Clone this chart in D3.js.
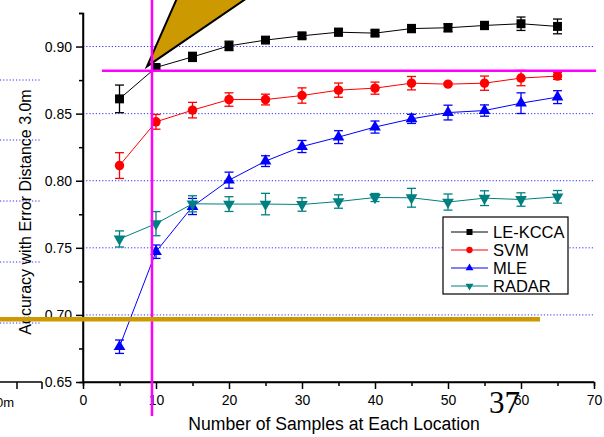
<!DOCTYPE html>
<html>
<head>
<meta charset="utf-8">
<script src="https://cdn.jsdelivr.net/npm/d3@7"></script>
<style>
  body { margin: 0; background: #fff; }
  svg { display: block; font-family: "Liberation Sans", Arial, sans-serif; }
  .grid line { stroke: #3030ff; stroke-width: 1; stroke-dasharray: 1.2 2; }
</style>
</head>
<body>
<script>
// sample counts
var samples = [5, 10, 15, 20, 25, 30, 35, 40, 45, 50, 55, 60, 65];

var lekcca = [0.861, 0.8844, 0.8923, 0.9005, 0.9048, 0.908, 0.9107, 0.910, 0.9134, 0.914, 0.9157, 0.917, 0.915];
var lekccaErr = [0.0103, 0.002, 0.0034, 0.0035, 0.002, 0.002, 0.0028, 0.002, 0.003, 0.003, 0.003, 0.005, 0.0055];

var svm = [0.8113, 0.8439, 0.8526, 0.8605, 0.8605, 0.8635, 0.8675, 0.869, 0.8727, 0.872, 0.8727, 0.8765, 0.878];
var svmErr = [0.0096, 0.0055, 0.0058, 0.005, 0.004, 0.0057, 0.0053, 0.0045, 0.005, 0.001, 0.0053, 0.0057, 0.0025];

var mle = [0.6763, 0.7471, 0.7808, 0.8004, 0.8146, 0.8255, 0.8325, 0.840, 0.8461, 0.8508, 0.8523, 0.8578, 0.8623];
var mleErr = [0.005, 0.005, 0.006, 0.006, 0.004, 0.0045, 0.0048, 0.0045, 0.0034, 0.0055, 0.0042, 0.0077, 0.0048];

var radar = [0.7566, 0.768, 0.7828, 0.7826, 0.7826, 0.7823, 0.7845, 0.7875, 0.7873, 0.7841, 0.787, 0.786, 0.788];
var radarErr = [0.006, 0.009, 0.006, 0.0055, 0.008, 0.005, 0.005, 0.003, 0.007, 0.006, 0.0055, 0.005, 0.0047];

var seriesNames = ["LE-KCCA", "SVM", "MLE", "RADAR"];
var xTicks = [0, 10, 20, 30, 40, 50, 60, 70];
var yTicks = [0.65, 0.70, 0.75, 0.80, 0.85, 0.90];
var gridValues = [0.70, 0.75, 0.80, 0.85, 0.90];

var series = [
  { name: seriesNames[0], values: lekcca, err: lekccaErr, color: "#000000", symbol: d3.symbolSquare, size: 80, rot: 0 },
  { name: seriesNames[1], values: svm, err: svmErr, color: "#ff0000", symbol: d3.symbolCircle, size: 70, rot: 0 },
  { name: seriesNames[2], values: mle, err: mleErr, color: "#0000ff", symbol: d3.symbolTriangle, size: 60, rot: 0 },
  { name: seriesNames[3], values: radar, err: radarErr, color: "#008080", symbol: d3.symbolTriangle, size: 60, rot: 180 }
];

var W = 604, H = 437;
var svg = d3.select("body").append("svg").attr("width", W).attr("height", H);

var x = d3.scaleLinear().domain([0, 70]).range([83, 594]);
var y = d3.scaleLinear().domain([0.65, 0.925]).range([382, 13]);

// leftover fragment of a neighbouring figure on the left edge
var ghostY = [80, 140, 201, 262, 323];
svg.append("g").selectAll("line").data(ghostY).enter().append("line")
    .attr("x1", 0).attr("x2", 40).attr("y1", function(d) { return d; }).attr("y2", function(d) { return d; })
    .attr("stroke", "#3030ff").attr("stroke-dasharray", "1.2 2");
svg.append("line").attr("x1", 0).attr("x2", 42).attr("y1", 382).attr("y2", 382)
    .attr("stroke", "#000").attr("stroke-width", 1.5);
[17, 42].forEach(function(t) {
  svg.append("line").attr("x1", t).attr("x2", t).attr("y1", 382).attr("y2", 389)
      .attr("stroke", "#000").attr("stroke-width", 1.5);
});
svg.append("text").attr("x", -4).attr("y", 407).attr("font-size", 13).text("0m");

// grid
svg.append("g").attr("class", "grid").selectAll("line").data(gridValues).enter().append("line")
    .attr("x1", x(0)).attr("x2", x(70))
    .attr("y1", function(d) { return y(d); }).attr("y2", function(d) { return y(d); });

// axes
var xAxis = svg.append("g").attr("transform", "translate(0," + y(0.65) + ")")
    .call(d3.axisBottom(x).tickValues(xTicks).tickSize(7).tickPadding(6).tickFormat(d3.format("d")));
svg.append("g").attr("transform", "translate(0," + y(0.65) + ")")
    .call(d3.axisBottom(x).tickValues(d3.range(5, 70, 10)).tickSize(4).tickFormat(""));
var yAxis = svg.append("g").attr("transform", "translate(" + x(0) + ",0)")
    .call(d3.axisLeft(y).tickValues(yTicks).tickSize(7).tickPadding(4).tickFormat(d3.format(".2f")));
svg.append("g").attr("transform", "translate(" + x(0) + ",0)")
    .call(d3.axisLeft(y).tickValues([0.675, 0.725, 0.775, 0.825, 0.875, 0.925]).tickSize(4).tickFormat(""));
svg.selectAll(".domain").attr("stroke-width", 1.5);
svg.selectAll(".tick line").attr("stroke-width", 1.5);
svg.selectAll(".tick text").attr("font-size", 14).attr("fill", "#000")
    .style("font-family", "'Liberation Sans', Arial, sans-serif");
yAxis.select(".domain").attr("d", "M0," + y(0.925) + "V" + y(0.65));
xAxis.select(".domain").attr("d", "M" + x(0) + ",0H" + x(70));

// axis titles
svg.append("text").attr("x", 334).attr("y", 430).attr("text-anchor", "middle")
    .attr("font-size", 17.6).text("Number of Samples at Each Location");
svg.append("text").attr("transform", "translate(30.5,212) rotate(-90)").attr("text-anchor", "middle")
    .attr("font-size", 16).text("Accuracy with Error Distance 3.0m");

// series
var line = d3.line().x(function(d, i) { return x(samples[i]); }).y(function(d) { return y(d); });

series.forEach(function(s) {
  var g = svg.append("g");
  g.append("path").datum(s.values).attr("d", line)
      .attr("fill", "none").attr("stroke", s.color).attr("stroke-width", 1);
  var eb = g.selectAll(".eb").data(s.values).enter().append("g");
  eb.append("line")
      .attr("x1", function(d, i) { return x(samples[i]); }).attr("x2", function(d, i) { return x(samples[i]); })
      .attr("y1", function(d, i) { return y(d - s.err[i]); }).attr("y2", function(d, i) { return y(d + s.err[i]); })
      .attr("stroke", s.color).attr("stroke-width", 1.3);
  [-1, 1].forEach(function(sign) {
    eb.append("line")
        .attr("x1", function(d, i) { return x(samples[i]) - 4.5; }).attr("x2", function(d, i) { return x(samples[i]) + 4.5; })
        .attr("y1", function(d, i) { return y(d + sign * s.err[i]); }).attr("y2", function(d, i) { return y(d + sign * s.err[i]); })
        .attr("stroke", s.color).attr("stroke-width", 1.3);
  });
  g.selectAll(".pt").data(s.values).enter().append("path")
      .attr("d", d3.symbol().type(s.symbol).size(s.size))
      .attr("transform", function(d, i) { return "translate(" + x(samples[i]) + "," + y(d) + ") rotate(" + s.rot + ")"; })
      .attr("fill", s.color);
});

// legend
var lg = svg.append("g").attr("transform", "translate(443,217)");
lg.append("rect").attr("width", 125).attr("height", 77).attr("fill", "#fff").attr("stroke", "#000").attr("stroke-width", 1.2);
series.forEach(function(s, i) {
  var yy = 15 + i * 18;
  lg.append("line").attr("x1", 8).attr("x2", 45).attr("y1", yy).attr("y2", yy).attr("stroke", s.color).attr("stroke-width", 1);
  lg.append("path").attr("d", d3.symbol().type(s.symbol).size(s.size * 0.45))
      .attr("transform", "translate(26.5," + yy + ") rotate(" + s.rot + ")").attr("fill", s.color);
  lg.append("text").attr("x", 50).attr("y", yy + 6).attr("font-size", 16.5).text(s.name);
});

// overlay annotations
svg.append("path")
    .attr("d", "M" + x(8.77) + "," + y(0.8852) + "L178,-4L250,-4Z")
    .attr("fill", "#cc9900").attr("stroke", "#000").attr("stroke-width", 2);
svg.append("line").attr("x1", x(9.45)).attr("x2", x(9.45)).attr("y1", 0).attr("y2", 416)
    .attr("stroke", "#ff00ff").attr("stroke-width", 2.5);
svg.append("line").attr("x1", 102).attr("x2", 596).attr("y1", y(0.8819)).attr("y2", y(0.8819))
    .attr("stroke", "#ff00ff").attr("stroke-width", 2.5);
svg.append("line").attr("x1", 0).attr("x2", 540).attr("y1", y(0.6968)).attr("y2", y(0.6968))
    .attr("stroke", "#cc9900").attr("stroke-width", 4.5);
svg.append("text").attr("x", 489).attr("y", 413).attr("font-size", 31)
    .style("font-family", "'Liberation Serif', 'Times New Roman', serif").text("37");
</script>
</body>
</html>
